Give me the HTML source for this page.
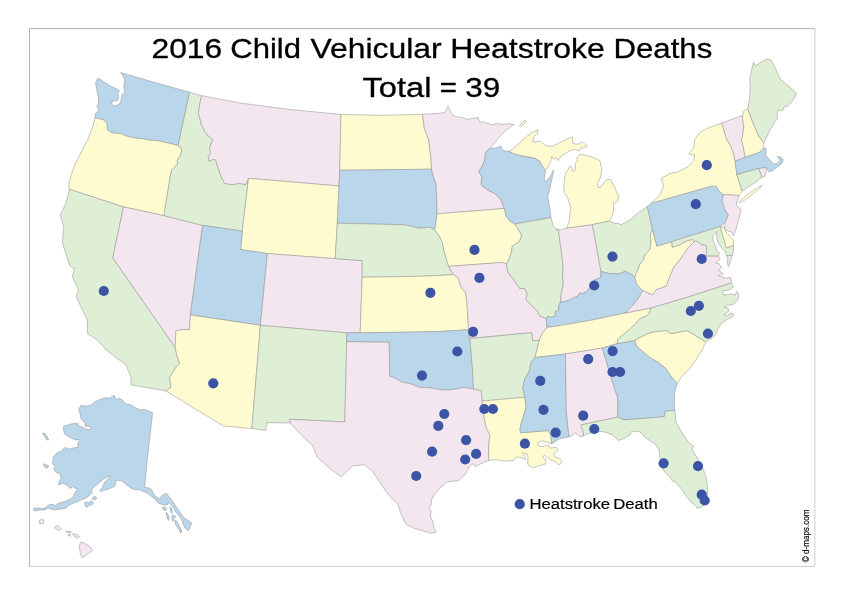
<!DOCTYPE html>
<html><head><meta charset="utf-8"><title>2016 Child Vehicular Heatstroke Deaths</title>
<style>
html,body{margin:0;padding:0;background:#fff;}
body{width:842px;height:595px;overflow:hidden;font-family:"Liberation Sans",sans-serif;}
svg{display:block;will-change:transform;}
.st path{stroke:#8e8e8e;stroke-width:0.5;stroke-linejoin:round;}
text{font-family:"Liberation Sans",sans-serif;fill:#000;}
</style></head><body>
<svg width="842" height="595" viewBox="0 0 842 595">
<rect x="0" y="0" width="842" height="595" fill="#fff"/>
<path d="M29.5 566.4V28.6H814.9" fill="none" stroke="#a0a0a0" stroke-width="0.8"/>
<path d="M814.9 28.6V566.4H29.5" fill="none" stroke="#acacac" stroke-width="0.6"/>
<g class="st">
<path fill="#bad6ea" d="M95.0 118.0L95.6 113.0L97.5 112.4L98.7 108.6L96.8 106.8L98.7 102.4L98.1 96.2L96.8 89.9L95.6 82.5L98.1 78.1L103.7 81.8L109.9 85.6L114.9 88.1L119.3 90.6L117.7 93.1L118.7 96.8L117.7 100.5L111.8 101.4L112.2 104.9L114.9 106.1L119.3 104.3L121.2 99.9L121.8 94.9L124.9 91.8L123.7 86.2L124.9 80.0L122.4 75.0L120.5 72.5L155.0 82.5L189.6 92.2L178.1 145.6L169.7 143.4L157.2 140.6L149.7 140.3L143.6 138.9L134.9 137.9L126.1 136.1L121.2 133.6L111.8 133.0L107.4 129.8L106.8 123.6L103.7 119.9L98.7 118.6L95.0 118.0Z"/>
<path fill="#fffbd1" d="M69.4 189.3L68.7 184.7L71.2 174.7L74.9 164.7L81.1 152.3L88.1 138.9L92.5 127.3L95.0 118.0L98.7 118.6L103.7 119.9L106.8 123.6L107.4 129.8L111.8 133.0L121.2 133.6L126.1 136.1L134.9 137.9L143.6 138.9L149.7 140.3L157.2 140.6L169.7 143.4L178.1 145.6L181.0 147.7L181.7 151.1L180.2 156.1L177.2 160.3L177.6 163.7L174.7 167.1L171.8 170.0L170.9 173.5L169.7 179.7L163.9 215.6L123.5 206.9L69.4 189.3Z"/>
<path fill="#deefd5" d="M131.0 384.8L131.0 377.3L126.0 364.8L117.3 358.6L106.1 349.9L97.4 339.9L87.4 333.6L87.4 319.9L81.1 307.5L76.2 296.0L78.7 289.7L72.4 277.2L74.4 268.5L69.9 266.0L66.2 254.8L62.4 242.3L63.7 227.4L60.4 214.9L66.2 202.4L69.4 189.3L123.5 206.9L112.8 257.8L175.2 347.4L176.7 354.8L179.7 363.6L175.9 367.3L169.7 377.3L170.9 387.3L165.9 391.0L131.0 384.8Z"/>
<path fill="#f3e6ee" d="M123.5 206.9L163.9 215.6L202.6 225.4L190.4 314.9L189.6 329.9L182.2 329.4L175.9 331.1L175.2 347.4L112.8 257.8L123.5 206.9Z"/>
<path fill="#deefd5" d="M189.6 92.2L201.6 95.7L199.6 104.9L198.4 113.6L200.3 120.0L201.2 124.2L205.4 132.6L209.6 137.2L212.8 139.7L210.8 144.4L209.6 148.6L210.8 153.6L208.1 156.1L209.2 161.2L213.8 159.1L215.9 160.3L217.1 165.4L218.8 170.0L220.8 176.0L224.5 183.4L232.0 184.7L239.5 183.4L245.7 184.7L248.5 178.3L242.3 231.1L202.6 225.4L163.9 215.6L169.7 179.7L170.9 173.5L171.8 170.0L174.7 167.1L177.6 163.7L177.2 160.3L180.2 156.1L181.7 151.1L181.0 147.7L178.1 145.6L189.6 92.2Z"/>
<path fill="#f3e6ee" d="M201.6 95.7L240.0 103.0L289.9 109.5L341.0 114.4L339.8 170.3L339.0 186.0L248.5 178.3L245.7 184.7L239.5 183.4L232.0 184.7L224.5 183.4L220.8 176.0L218.8 170.0L217.1 165.4L215.9 160.3L213.8 159.1L209.2 161.2L208.1 156.1L210.8 153.6L209.6 148.6L210.8 144.4L212.8 139.7L209.6 137.2L205.4 132.6L201.2 124.2L200.3 120.0L198.4 113.6L199.6 104.9L201.6 95.7Z"/>
<path fill="#fffbd1" d="M248.5 178.3L339.0 186.0L337.3 223.2L335.2 258.6L267.4 253.6L240.6 249.5L242.3 231.1L248.5 178.3Z"/>
<path fill="#bad6ea" d="M202.6 225.4L242.3 231.1L240.6 249.5L267.4 253.6L260.4 325.3L190.4 314.9L202.6 225.4Z"/>
<path fill="#f3e6ee" d="M267.4 253.6L335.2 258.6L362.2 260.6L362.2 277.3L360.2 332.7L346.7 332.8L260.4 325.3L267.4 253.6Z"/>
<path fill="#fffbd1" d="M190.4 314.9L260.4 325.3L251.9 428.5L223.3 425.9L165.9 391.0L170.9 387.3L169.7 377.3L175.9 367.3L179.7 363.6L176.7 354.8L175.2 347.4L175.9 331.1L182.2 329.4L189.6 329.9L190.4 314.9Z"/>
<path fill="#deefd5" d="M260.4 325.3L346.7 332.8L346.7 341.7L344.8 422.0L289.4 419.2L290.5 423.0L266.9 422.7L265.7 430.5L251.9 428.5L260.4 325.3Z"/>
<path fill="#fffbd1" d="M341.0 114.4L382.0 115.3L422.5 114.3L424.4 128.7L428.7 139.9L430.6 154.9L431.6 169.2L339.8 170.3L341.0 114.4Z"/>
<path fill="#bad6ea" d="M339.8 170.3L431.6 169.2L433.5 177.3L436.0 184.0L436.6 194.7L437.0 213.8L435.8 224.7L434.5 229.7L429.5 227.3L419.5 228.2L412.0 226.5L404.6 224.8L337.3 223.2L339.0 186.0L339.8 170.3Z"/>
<path fill="#deefd5" d="M337.3 223.2L404.6 224.8L412.0 226.5L419.5 228.2L429.5 227.3L434.5 229.7L438.7 235.0L442.4 241.9L443.7 250.0L446.8 259.9L448.7 266.4L451.2 271.2L453.7 274.5L440.0 275.4L420.0 276.3L362.2 277.3L362.2 260.6L335.2 258.6L337.3 223.2Z"/>
<path fill="#fffbd1" d="M362.2 277.3L420.0 276.3L440.0 275.4L453.7 274.5L458.7 278.6L459.9 284.9L462.4 289.2L465.5 292.4L466.8 301.1L468.6 329.7L440.0 331.5L400.0 332.3L360.2 332.7L362.2 277.3Z"/>
<path fill="#bad6ea" d="M346.7 332.8L360.2 332.7L400.0 332.3L440.0 331.5L468.6 329.7L469.9 338.5L472.4 367.9L473.6 389.0L464.6 387.5L449.6 390.0L440.0 389.8L429.5 387.8L419.5 387.3L409.6 383.6L402.1 382.3L395.8 378.6L389.6 376.1L389.1 342.3L346.7 341.7L346.7 332.8Z"/>
<path fill="#f3e6ee" d="M290.5 423.0L289.4 419.2L344.8 422.0L346.7 341.7L389.1 342.3L389.6 376.1L395.8 378.6L402.1 382.3L409.6 383.6L419.5 387.3L429.5 387.8L440.0 389.8L449.6 390.0L464.6 387.5L473.6 389.0L481.3 390.5L482.2 401.1L483.5 414.8L486.2 427.5L490.0 435.0L488.7 444.9L488.7 460.5L482.5 463.0L475.0 466.8L473.1 463.6L469.6 466.0L464.8 475.0L458.6 480.6L447.3 481.8L441.1 486.8L434.9 493.7L431.7 499.3L431.1 505.5L428.6 507.4L431.1 511.1L430.5 516.1L433.0 522.4L433.6 527.4L436.1 532.0L431.1 533.3L423.6 531.1L413.7 528.0L406.8 524.9L403.7 519.9L400.0 511.1L397.5 503.0L392.5 499.3L386.2 491.8L378.5 480.0L372.3 471.0L364.8 464.8L352.3 466.0L346.1 472.3L341.1 476.8L329.9 468.5L317.4 457.3L312.4 445.0L304.8 438.4L300.0 433.6L290.5 423.0Z"/>
<path fill="#f3e6ee" d="M422.5 114.3L437.4 113.5L444.9 112.5L448.0 106.5L452.4 115.0L456.1 116.8L462.4 117.5L466.1 119.3L471.1 118.7L478.0 117.5L479.8 122.4L483.6 121.8L492.3 124.9L496.0 123.7L502.3 124.3L508.5 123.7L514.1 124.3L507.3 129.3L501.0 134.9L496.0 141.1L489.8 148.6L485.4 152.4L484.8 159.9L482.3 166.1L478.6 171.7L481.8 176.1L481.1 184.8L487.3 189.8L494.8 193.5L501.0 199.8L504.3 208.5L437.0 213.8L436.6 194.7L436.0 184.0L433.5 177.3L431.6 169.2L430.6 154.9L428.7 139.9L424.4 128.7L422.5 114.3Z"/>
<path fill="#fffbd1" d="M437.0 213.8L504.3 208.5L506.0 216.0L509.8 221.0L514.8 224.0L518.5 229.7L521.6 235.0L519.8 241.2L512.3 246.2L511.6 251.2L509.2 258.7L506.4 264.0L502.3 262.4L448.7 266.4L446.8 259.9L443.7 250.0L442.4 241.9L438.7 235.0L434.5 229.7L435.8 224.7L437.0 213.8Z"/>
<path fill="#f3e6ee" d="M448.7 266.4L502.3 262.4L506.4 264.0L507.9 272.4L514.8 281.1L519.8 288.6L524.7 288.3L527.2 293.6L526.0 299.8L532.2 306.0L537.2 311.0L540.0 316.1L546.2 318.5L546.9 327.5L542.2 333.5L539.4 340.2L532.7 341.0L531.7 332.7L469.9 338.5L468.6 329.7L466.8 301.1L465.5 292.4L462.4 289.2L459.9 284.9L458.7 278.6L453.7 274.5L451.2 271.2L448.7 266.4Z"/>
<path fill="#deefd5" d="M469.9 338.5L531.7 332.7L532.7 341.0L539.4 340.2L536.0 353.7L535.0 357.5L531.0 362.4L529.3 371.1L524.8 378.6L522.8 387.4L524.8 397.3L482.2 401.1L481.3 390.5L473.6 389.0L472.4 367.9L469.9 338.5Z"/>
<path fill="#fffbd1" d="M482.2 401.1L524.8 397.3L526.1 407.3L523.6 416.0L521.1 423.5L519.9 429.4L520.5 432.8L548.6 430.6L551.0 436.2L551.7 443.7L547.3 442.4L542.3 440.6L537.3 443.1L539.2 446.2L542.3 446.8L547.9 444.9L549.8 448.1L556.0 447.4L558.5 449.9L556.0 451.2L553.8 454.3L554.8 456.8L559.8 458.7L562.0 461.8L559.2 465.1L557.3 463.0L551.0 459.9L546.7 456.8L544.2 454.9L542.9 457.4L546.1 459.9L544.8 464.3L537.3 466.1L533.0 468.0L527.6 464.3L528.0 457.4L526.7 453.7L522.4 452.7L524.9 456.2L525.5 459.9L522.4 458.0L516.8 456.8L513.6 460.5L504.9 461.1L494.9 459.7L488.7 460.5L488.7 444.9L490.0 435.0L486.2 427.5L483.5 414.8L482.2 401.1Z"/>
<path fill="#bad6ea" d="M489.8 148.6L496.0 148.0L501.0 146.1L502.9 150.5L509.4 151.3L513.7 153.8L524.9 156.3L534.9 158.1L539.9 161.3L543.0 166.9L545.5 170.6L544.3 179.3L545.5 181.8L549.9 176.8L553.6 170.0L552.4 176.8L550.5 185.9L547.7 197.3L549.7 207.2L551.0 217.7L514.8 224.0L509.8 221.0L506.0 216.0L504.3 208.5L501.0 199.8L494.8 193.5L487.3 189.8L481.1 184.8L481.8 176.1L478.6 171.7L482.3 166.1L484.8 159.9L485.4 152.4L489.8 148.6Z"/>
<path fill="#deefd5" d="M514.8 224.0L551.0 217.7L553.4 225.9L556.0 229.0L558.4 230.2L561.8 255.0L563.1 267.5L562.4 275.0L563.4 283.7L561.2 293.7L560.6 301.8L558.7 306.1L558.7 309.9L555.6 311.7L555.0 316.1L551.2 317.4L547.5 316.5L546.2 318.5L540.0 316.1L537.2 311.0L532.2 306.0L526.0 299.8L527.2 293.6L524.7 288.3L519.8 288.6L514.8 281.1L507.9 272.4L506.4 264.0L509.2 258.7L511.6 251.2L512.3 246.2L519.8 241.2L521.6 235.0L518.5 229.7L514.8 224.0Z"/>
<path fill="#f3e6ee" d="M556.0 229.0L561.0 230.0L566.9 228.0L592.4 224.6L598.0 255.0L601.0 271.5L600.8 277.4L594.9 279.9L587.4 291.2L582.4 293.7L579.9 293.0L577.4 296.8L573.7 297.4L569.9 299.9L563.7 301.8L560.6 301.8L561.2 293.7L563.4 283.7L562.4 275.0L563.1 267.5L561.8 255.0L558.4 230.2L556.0 229.0Z"/>
<path fill="#fffbd1" d="M509.4 151.3L515.0 146.9L520.6 141.9L526.8 136.3L533.0 132.0L538.0 130.1L537.4 133.8L533.7 136.9L532.7 141.9L539.9 141.3L546.1 145.7L552.4 146.3L558.6 143.2L564.8 140.1L572.3 136.9L572.9 143.2L577.3 144.4L582.3 141.9L587.3 146.3L583.5 148.2L581.0 147.5L579.8 150.7L574.8 149.4L569.8 150.7L564.8 153.8L559.9 157.5L558.0 160.6L556.7 158.1L553.6 158.8L551.7 156.3L550.5 161.9L548.0 166.9L545.5 170.6L543.0 166.9L539.9 161.3L534.9 158.1L524.9 156.3L513.7 153.8L509.4 151.3Z"/>
<path fill="#fffbd1" d="M566.9 228.0L569.4 219.9L570.6 207.4L568.1 198.7L564.4 192.4L563.7 186.2L565.0 175.0L569.4 166.9L571.2 166.2L572.5 171.2L575.0 170.6L575.6 162.5L577.9 160.6L576.7 158.1L579.8 154.4L587.3 155.6L594.8 158.1L599.8 160.6L601.8 168.7L600.5 177.5L597.4 183.7L598.0 187.7L601.1 186.8L606.1 179.7L610.5 179.3L614.9 188.1L618.6 196.2L618.0 201.1L613.6 203.0L613.6 209.9L612.4 216.1L609.3 221.1L592.4 224.6L566.9 228.0Z"/>
<path fill="#deefd5" d="M592.4 224.6L609.3 221.1L613.6 223.0L618.6 223.6L621.1 224.8L629.8 219.9L637.3 213.6L647.3 206.4L652.4 229.4L650.4 234.8L651.1 242.3L649.9 249.8L644.9 254.8L643.6 259.8L639.8 264.4L638.5 268.7L636.0 273.7L634.8 277.4L632.3 275.0L625.4 271.2L619.8 273.7L609.8 273.7L601.0 271.5L598.0 255.0L592.4 224.6Z"/>
<path fill="#bad6ea" d="M560.6 301.8L563.7 301.8L569.9 299.9L573.7 297.4L577.4 296.8L579.9 293.0L582.4 293.7L587.4 291.2L594.9 279.9L600.8 277.4L601.0 271.5L609.8 273.7L619.8 273.7L625.4 271.2L632.3 275.0L634.8 277.4L636.6 283.7L639.8 288.0L642.9 290.5L637.3 299.9L632.3 306.1L624.8 313.1L592.4 320.0L560.0 325.6L546.9 327.5L546.2 318.5L547.5 316.5L551.2 317.4L555.0 316.1L555.6 311.7L558.7 309.9L558.7 306.1L560.6 301.8Z"/>
<path fill="#fffbd1" d="M546.9 327.5L560.0 325.6L592.4 320.0L624.8 313.1L651.0 307.9L649.2 313.7L646.0 316.2L639.8 318.7L634.8 324.3L629.8 329.3L623.6 334.3L619.9 337.4L617.6 339.9L617.4 343.6L602.4 348.0L565.5 354.0L535.0 357.5L536.0 353.7L539.4 340.2L542.2 333.5L546.9 327.5Z"/>
<path fill="#bad6ea" d="M535.0 357.5L565.5 354.0L566.3 412.3L569.1 436.8L559.8 438.7L551.7 443.7L551.0 436.2L548.6 430.6L520.5 432.8L519.9 429.4L521.1 423.5L523.6 416.0L526.1 407.3L524.8 397.3L522.8 387.4L524.8 378.6L529.3 371.1L531.0 362.4L535.0 357.5Z"/>
<path fill="#f3e6ee" d="M565.5 354.0L602.4 348.0L608.0 367.3L609.6 372.4L614.6 388.6L617.6 397.3L618.0 407.5L617.4 417.2L581.2 424.9L581.9 428.7L583.7 432.4L583.1 436.1L579.4 436.8L575.0 432.4L573.4 434.7L569.1 436.8L566.3 412.3L565.5 354.0Z"/>
<path fill="#bad6ea" d="M602.4 348.0L617.4 343.6L634.8 340.5L636.7 346.1L642.3 351.1L649.8 357.4L658.5 362.3L666.0 368.5L671.0 376.0L677.2 383.5L674.7 392.2L674.2 402.2L674.8 410.2L665.4 411.2L664.2 416.8L624.3 419.9L617.4 417.2L618.0 407.5L617.6 397.3L614.6 388.6L609.6 372.4L608.0 367.3L602.4 348.0Z"/>
<path fill="#deefd5" d="M617.4 417.2L624.3 419.9L664.2 416.8L665.4 411.2L674.8 410.2L676.0 422.4L681.0 431.1L688.5 442.4L693.5 446.1L692.3 449.9L698.5 459.8L703.5 469.8L706.7 479.8L707.7 489.8L707.2 499.7L703.5 506.0L697.2 508.5L696.0 506.0L691.0 502.2L686.0 496.0L681.0 488.5L676.0 482.3L672.3 481.0L669.3 476.0L664.8 472.3L661.1 466.1L659.8 457.4L659.2 449.9L656.0 444.9L649.8 440.5L644.8 437.4L641.1 432.4L637.3 431.2L631.1 431.8L629.9 434.9L624.9 438.0L618.6 440.5L612.4 434.9L606.2 432.4L599.9 431.2L587.5 433.7L583.1 436.1L583.7 432.4L581.9 428.7L581.2 424.9L617.4 417.2Z"/>
<path fill="#fffbd1" d="M634.8 340.5L639.8 337.4L647.3 333.7L654.8 331.7L666.0 330.4L671.0 333.6L687.2 330.6L705.7 341.8L702.2 349.8L695.9 359.8L689.7 368.5L682.2 376.0L677.2 383.5L671.0 376.0L666.0 368.5L658.5 362.3L649.8 357.4L642.3 351.1L636.7 346.1L634.8 340.5Z"/>
<path fill="#deefd5" d="M617.4 343.6L617.6 339.9L619.9 337.4L623.6 334.3L629.8 329.3L634.8 324.3L639.8 318.7L646.0 316.2L649.2 313.7L651.0 307.9L691.5 295.8L731.3 282.8L733.5 287.0L730.3 289.5L725.9 290.7L722.5 290.7L723.8 295.2L727.8 294.5L732.8 293.9L735.3 295.2L736.6 291.4L738.5 293.9L738.5 298.3L736.0 302.1L732.8 304.6L727.8 305.2L724.0 307.1L727.8 308.0L729.0 310.9L725.9 313.4L723.8 314.7L726.5 315.9L731.6 312.8L733.8 314.0L732.2 317.2L727.8 319.1L722.7 322.2L719.6 326.0L717.1 330.4L715.8 334.2L713.3 337.3L708.9 339.9L705.7 341.8L687.2 330.6L671.0 333.6L666.0 330.4L654.8 331.7L647.3 333.7L639.8 337.4L634.8 340.5L617.4 343.6Z"/>
<path fill="#f3e6ee" d="M642.9 290.5L652.4 294.7L656.1 289.7L666.1 286.0L669.8 276.0L673.6 267.3L679.8 259.8L684.8 252.3L688.5 247.3L692.5 243.6L694.3 241.5L697.6 241.4L701.3 244.6L706.4 245.2L706.4 252.8L705.7 255.9L718.3 255.9L720.2 259.1L715.2 262.9L719.0 263.5L721.5 267.9L718.3 270.4L723.4 273.6L718.3 275.5L725.3 278.0L730.3 277.3L731.6 281.8L731.3 282.8L691.5 295.8L651.0 307.9L624.8 313.1L632.3 306.1L637.3 299.9L642.9 290.5Z"/>
<path fill="#fffbd1" d="M634.8 277.4L636.0 273.7L638.5 268.7L639.8 264.4L643.6 259.8L644.9 254.8L649.9 249.8L651.1 242.3L650.4 234.8L652.4 229.4L656.9 246.1L671.8 241.6L672.3 247.3L679.8 244.8L687.3 240.6L693.1 239.4L694.3 241.5L692.5 243.6L688.5 247.3L684.8 252.3L679.8 259.8L673.6 267.3L669.8 276.0L666.1 286.0L656.1 289.7L652.4 294.7L642.9 290.5L639.8 288.0L636.6 283.7L634.8 277.4Z"/>
<path fill="#bad6ea" d="M647.3 206.4L651.6 203.0L712.0 186.0L716.4 186.7L719.5 191.7L723.3 194.5L722.1 200.5L724.6 208.7L728.4 215.0L725.3 222.6L720.2 226.6L671.8 241.6L656.9 246.1L652.4 229.4L647.3 206.4Z"/>
<path fill="#fffbd1" d="M721.8 123.1L709.8 127.3L699.8 132.3L694.8 139.8L693.6 148.5L688.6 153.5L691.1 154.7L694.8 154.7L693.6 161.0L687.3 167.2L677.4 172.2L669.9 173.5L661.2 178.4L663.6 186.0L660.0 195.0L651.6 203.0L712.0 186.0L716.4 186.7L719.5 191.7L723.3 194.5L739.0 195.5L739.7 194.2L742.2 191.1L736.9 174.7L735.1 161.2L733.8 155.1L731.5 147.6L727.1 140.0L725.3 134.8L721.8 123.1Z"/>
<path fill="#f3e6ee" d="M723.3 194.5L722.1 200.5L724.6 208.7L728.4 215.0L725.3 222.6L724.6 227.6L726.5 230.7L731.6 232.0L733.5 235.8L735.3 231.4L737.9 222.6L739.7 215.0L741.0 211.5L740.4 208.7L736.0 205.5L737.5 200.5L739.0 195.5L723.3 194.5Z"/>
<path fill="#deefd5" d="M671.8 241.6L720.2 226.6L726.5 248.0L733.5 245.2L733.5 251.5L732.2 255.3L726.5 255.9L725.3 251.5L721.5 247.7L718.3 243.3L717.1 238.9L716.4 233.9L717.1 231.4L713.3 235.2L712.4 238.9L714.6 244.0L716.4 249.6L719.6 254.0L718.3 255.9L705.7 255.9L706.4 252.8L706.4 245.2L701.3 244.6L697.6 241.4L694.3 241.5L693.1 239.4L687.3 240.6L679.8 244.8L672.3 247.3L671.8 241.6Z"/>
<path fill="#f3e6ee" d="M721.8 123.1L742.8 115.3L742.7 118.9L743.8 126.9L742.2 138.1L741.6 140.0L743.5 147.6L745.1 157.4L735.1 161.2L733.8 155.1L731.5 147.6L727.1 140.0L725.3 134.8L721.8 123.1Z"/>
<path fill="#fffbd1" d="M742.8 115.3L743.8 110.9L747.8 108.5L752.6 122.1L759.0 136.5L763.8 142.9L763.7 148.2L759.3 152.4L745.1 157.4L743.5 147.6L741.6 140.0L742.2 138.1L743.8 126.9L742.7 118.9L742.8 115.3Z"/>
<path fill="#deefd5" d="M747.8 108.5L749.4 99.7L750.2 86.9L749.7 79.0L751.8 69.4L753.4 62.2L755.0 66.2L759.8 63.0L766.2 59.0L770.9 59.8L774.1 65.4L777.3 72.6L780.5 79.8L786.1 83.8L792.5 89.3L796.5 93.3L794.1 98.9L790.1 103.7L786.9 106.9L785.3 105.3L782.9 110.1L780.5 110.9L778.9 109.3L777.3 113.3L777.3 118.9L774.1 122.9L770.9 128.5L767.7 134.9L765.4 139.7L763.8 142.9L759.0 136.5L752.6 122.1L747.8 108.5Z"/>
<path fill="#bad6ea" d="M735.1 161.2L745.1 157.4L759.3 152.4L763.7 148.2L766.2 148.6L765.6 155.1L768.7 158.9L773.8 164.0L777.6 163.3L780.1 160.2L777.2 156.4L780.7 157.0L783.2 159.5L782.0 163.3L776.9 167.1L772.5 170.9L768.7 171.5L766.6 167.7L758.6 168.4L736.9 174.7L735.1 161.2Z"/>
<path fill="#f3e6ee" d="M766.6 167.7L766.2 172.2L764.3 176.6L761.8 177.2L758.6 168.4L766.6 167.7Z"/>
<path fill="#deefd5" d="M736.9 174.7L758.6 168.4L761.8 177.2L755.5 182.2L747.9 187.3L742.2 191.1L736.9 174.7Z"/>
<path fill="#fffbd1" d="M720.2 226.6L724.0 227.3L725.9 232.0L730.3 237.0L733.5 240.2L733.5 245.2L726.5 248.0Z"/>
<path fill="#f3e6ee" d="M726.5 255.9L732.2 255.3L730.9 260.3L728.4 266.6L727.5 262.9L727.8 258.5Z"/>
<path fill="#fffbd1" d="M739.1 202.4L741.6 199.3L750.4 192.3L761.8 185.1L760.3 187.9L753.0 194.2L744.1 200.5L739.7 203.1Z"/>
<path fill="#fffbd1" d="M519.3 125.7L524.9 120.1L526.2 121.4L521.2 126.7Z"/>
<path fill="#bad6ea" d="M81.1 405.2L86.1 406.2L91.1 405.0L94.8 401.8L99.8 399.4L105.0 397.7L110.0 398.1L114.0 395.2L116.2 400.0L118.7 398.1L122.4 400.0L126.2 404.3L129.9 404.3L136.2 408.1L141.1 409.9L144.9 409.3L149.9 411.8L152.6 413.1L146.8 463.9L144.7 487.4L149.9 488.1L151.8 489.9L153.6 494.3L157.4 497.4L159.3 498.7L162.4 494.9L166.7 493.4L168.6 496.2L172.3 500.5L176.1 506.8L180.5 513.0L183.6 517.4L188.6 520.5L191.7 523.0L190.4 526.7L187.9 531.1L186.7 528.6L184.8 528.0L183.6 524.9L181.7 519.9L179.2 516.1L176.1 512.4L172.3 506.1L168.6 502.4L167.4 504.9L163.6 504.9L159.9 503.7L157.4 502.4L154.9 498.7L151.1 496.2L147.4 493.1L143.7 491.8L139.9 489.9L133.1 489.3L130.0 487.4L125.0 483.7L121.2 480.6L117.3 480.6L116.0 481.2L114.8 486.2L109.8 488.7L103.6 490.5L101.1 491.8L99.8 490.5L102.3 487.4L104.8 481.8L107.9 478.7L110.4 476.2L107.3 476.8L102.3 479.9L98.6 483.1L94.8 486.8L91.1 489.9L92.3 492.4L89.9 494.9L86.1 498.0L79.9 500.5L72.4 503.6L67.4 506.1L66.2 508.0L59.9 509.2L54.9 509.9L51.2 509.2L48.1 508.0L45.0 509.9L40.0 509.9L36.2 510.9L33.1 509.9L34.4 508.0L38.7 508.0L42.5 508.6L45.6 507.4L48.7 504.9L52.4 504.3L55.6 505.5L58.7 503.0L63.7 501.8L67.4 500.5L73.0 497.4L74.9 492.4L78.0 488.7L74.3 488.0L73.0 486.2L70.5 488.7L67.4 485.5L63.0 483.1L58.7 484.9L59.3 481.2L61.2 478.1L59.9 473.7L56.2 472.5L53.7 468.7L54.9 466.2L52.4 463.7L53.1 460.0L53.1 457.3L56.8 453.0L61.2 451.1L64.9 447.4L69.9 449.2L72.4 448.0L78.0 447.4L78.0 442.4L80.5 439.9L75.5 439.9L72.4 438.6L67.4 436.1L64.3 433.6L63.7 429.9L63.4 426.4L67.4 424.9L72.4 423.7L78.0 423.4L78.6 425.5L83.0 427.4L86.1 429.3L90.9 429.3L90.5 426.4L84.9 426.2L85.5 423.0L83.0 421.2L81.1 418.7L79.9 413.1L78.6 409.3Z"/>
<path fill="#bad6ea" d="M162.4 507.5L164.5 506.8L166.7 508.5L166.0 510.5L163.5 510.0Z"/>
<path fill="#bad6ea" d="M169.9 506.8L171.0 507.5L172.3 511.0L172.0 513.6L170.5 511.5Z"/>
<path fill="#bad6ea" d="M166.1 512.4L167.5 513.5L169.2 518.0L168.8 520.5L167.2 518.0Z"/>
<path fill="#bad6ea" d="M172.3 515.0L176.0 516.5L174.5 518.0L173.0 521.5L172.0 519.0Z"/>
<path fill="#bad6ea" d="M174.8 520.5L176.5 521.0L179.5 526.0L181.7 531.0L181.0 533.0L178.5 529.0L175.5 524.5Z"/>
<path fill="#bad6ea" d="M84.2 503.0L86.7 501.8L88.6 503.0L91.1 500.5L93.6 503.0L91.7 504.9L88.0 506.1L86.7 507.4L84.9 504.9Z"/>
<path fill="#bad6ea" d="M92.3 498.0L94.8 496.1L96.7 498.0L95.5 499.9L93.0 499.3Z"/>
<path fill="#bad6ea" d="M42.5 433.0L44.3 433.0L46.8 436.1L48.7 439.9L46.8 439.9L45.0 436.8Z"/>
<path fill="#bad6ea" d="M43.1 463.7L46.2 465.0L48.7 465.6L47.5 468.1L45.0 467.5Z"/>
<path fill="#f3e6ee" d="M39.0 521.2L41.5 518.8L44.0 520.5L43.2 523.5L40.0 524.0Z"/>
<path fill="#f3e6ee" d="M54.9 526.8L58.0 525.5L61.2 529.3L58.7 530.5L55.5 528.7Z"/>
<path fill="#f3e6ee" d="M66.1 531.0L71.1 531.8L71.1 532.8L66.1 532.0Z"/>
<path fill="#f3e6ee" d="M68.0 534.3L70.0 534.3L70.5 536.1L68.5 536.0Z"/>
<path fill="#f3e6ee" d="M72.4 533.6L76.1 534.3L79.6 536.4L76.1 538.4L74.3 536.1Z"/>
<path fill="#f3e6ee" d="M80.5 542.1L84.2 543.0L89.2 546.1L92.6 550.5L88.6 553.6L82.4 557.7L80.5 554.8L79.9 549.9L79.2 546.7Z"/>
</g>
<g fill="#3c54a5">
<circle cx="103.8" cy="291.0" r="5.1"/>
<circle cx="213.3" cy="383.3" r="5.1"/>
<circle cx="430.4" cy="292.8" r="5.1"/>
<circle cx="474.5" cy="249.9" r="5.1"/>
<circle cx="479.4" cy="277.9" r="5.1"/>
<circle cx="473.1" cy="331.8" r="5.1"/>
<circle cx="457.3" cy="351.5" r="5.1"/>
<circle cx="422.0" cy="375.6" r="5.1"/>
<circle cx="444.3" cy="414.0" r="5.1"/>
<circle cx="438.3" cy="425.9" r="5.1"/>
<circle cx="466.1" cy="440.1" r="5.1"/>
<circle cx="432.1" cy="451.6" r="5.1"/>
<circle cx="476.1" cy="453.9" r="5.1"/>
<circle cx="465.2" cy="459.5" r="5.1"/>
<circle cx="416.2" cy="476.0" r="5.1"/>
<circle cx="484.3" cy="409.0" r="5.1"/>
<circle cx="492.9" cy="409.0" r="5.1"/>
<circle cx="524.9" cy="443.7" r="5.1"/>
<circle cx="540.3" cy="380.9" r="5.1"/>
<circle cx="543.5" cy="409.8" r="5.1"/>
<circle cx="555.7" cy="432.7" r="5.1"/>
<circle cx="588.2" cy="359.1" r="5.1"/>
<circle cx="583.2" cy="415.7" r="5.1"/>
<circle cx="594.3" cy="429.0" r="5.1"/>
<circle cx="612.6" cy="351.1" r="5.1"/>
<circle cx="612.5" cy="372.0" r="5.1"/>
<circle cx="620.1" cy="372.0" r="5.1"/>
<circle cx="594.2" cy="285.5" r="5.1"/>
<circle cx="612.5" cy="256.6" r="5.1"/>
<circle cx="695.8" cy="204.2" r="5.1"/>
<circle cx="706.8" cy="165.2" r="5.1"/>
<circle cx="701.7" cy="259.0" r="5.1"/>
<circle cx="698.9" cy="305.8" r="5.1"/>
<circle cx="690.8" cy="311.0" r="5.1"/>
<circle cx="707.9" cy="333.6" r="5.1"/>
<circle cx="663.6" cy="463.3" r="5.1"/>
<circle cx="698.0" cy="466.1" r="5.1"/>
<circle cx="701.7" cy="494.7" r="5.1"/>
<circle cx="704.7" cy="500.5" r="5.1"/>
<circle cx="519.7" cy="504.2" r="5.1"/>
</g>
<text y="58.4" font-size="27.7" stroke="#000" stroke-width="0.3"><tspan x="151.50" textLength="70.75" lengthAdjust="spacingAndGlyphs">2016</tspan> <tspan x="230.24" textLength="70.78" lengthAdjust="spacingAndGlyphs">Child</tspan> <tspan x="310.50" textLength="131.24" lengthAdjust="spacingAndGlyphs">Vehicular</tspan> <tspan x="450.23" textLength="154.53" lengthAdjust="spacingAndGlyphs">Heatstroke</tspan> <tspan x="613.48" textLength="98.78" lengthAdjust="spacingAndGlyphs">Deaths</tspan></text>
<text y="96.7" font-size="27.7" stroke="#000" stroke-width="0.3"><tspan x="362.50" textLength="69.00" lengthAdjust="spacingAndGlyphs">Total</tspan> <tspan x="439.76" textLength="17.24" lengthAdjust="spacingAndGlyphs">=</tspan> <tspan x="465.26" textLength="34.98" lengthAdjust="spacingAndGlyphs">39</tspan></text>
<text y="509.3" font-size="15.1" stroke="#000" stroke-width="0.2"><tspan x="529.51" textLength="80.48" lengthAdjust="spacingAndGlyphs">Heatstroke</tspan> <tspan x="613.26" textLength="44.48" lengthAdjust="spacingAndGlyphs">Death</tspan></text>
<text transform="translate(809.2,562.2) rotate(-90)" font-size="8.4" textLength="52.6" lengthAdjust="spacingAndGlyphs" stroke="#000" stroke-width="0.15">© d-maps.com</text>
</svg></body></html>
